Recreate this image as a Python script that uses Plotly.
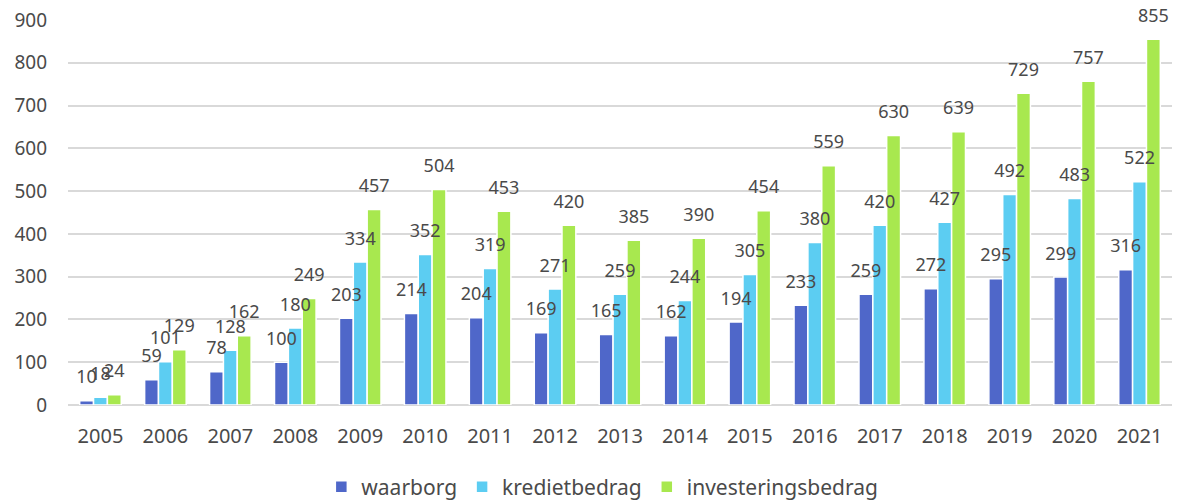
import plotly.graph_objects as go

years = [str(y) for y in range(2005, 2022)]
waarborg = [10, 59, 78, 100, 203, 214, 204, 169, 165, 162, 194, 233, 259, 272, 295, 299, 316]
kredietbedrag = [18, 101, 128, 180, 334, 352, 319, 271, 259, 244, 305, 380, 420, 427, 492, 483, 522]
investeringsbedrag = [24, 129, 162, 249, 457, 504, 453, 420, 385, 390, 454, 559, 630, 639, 729, 757, 855]

series = [
    ("waarborg", waarborg, "#4F67C9"),
    ("kredietbedrag", kredietbedrag, "#5CCDF2"),
    ("investeringsbedrag", investeringsbedrag, "#A8E84F"),
]

FONT = "Noto Sans"
TXT = "#4A4A4A"
LABEL_LIFT = 22  # extra space between bar top and its value label (axis units)

fig = go.Figure()
# visible bars
for i, (name, vals, col) in enumerate(series):
    fig.add_trace(go.Bar(
        name=name, x=years, y=vals, offsetgroup=str(i),
        marker=dict(color=col, line=dict(color="white", width=1.5)),
        hoverinfo="skip",
    ))
# transparent overlay bars carrying labels, drawn on top of all bars
for i, (name, vals, col) in enumerate(series):
    fig.add_trace(go.Bar(
        name=name, x=years, y=vals, base=LABEL_LIFT, offsetgroup=str(i), showlegend=False,
        marker=dict(color="rgba(0,0,0,0)", line=dict(width=0)),
        text=[str(v) for v in vals], textposition="outside",
        textfont=dict(family=FONT, size=18, color=TXT),
        cliponaxis=False, constraintext="none",
        hovertemplate=name + " %{x}: %{text}<extra></extra>",
    ))

fig.update_layout(
    width=1180, height=501,
    margin=dict(l=68, r=8, t=20, b=96, autoexpand=False),
    paper_bgcolor="white", plot_bgcolor="white",
    barmode="group", bargap=0.36, bargroupgap=0.0,
    font=dict(family=FONT, color=TXT, size=20),
    showlegend=True,
    legend=dict(orientation="h", x=0.484, xanchor="center", y=-0.16, yanchor="top",
                font=dict(family=FONT, size=21, color=TXT),
                tracegroupgap=0),
    xaxis=dict(showgrid=False, showline=False, ticks="", ticklabelstandoff=17,
               tickfont=dict(family=FONT, size=20, color=TXT)),
    yaxis=dict(range=[0, 900], dtick=100, showgrid=True, gridcolor="#D9D9D9", gridwidth=1.5,
               zeroline=True, zerolinecolor="#D9D9D9", zerolinewidth=1.5,
               ticks="", ticklabelstandoff=20,
               tickfont=dict(family=FONT, size=19, color=TXT)),
)

fig.write_html(
    "out.html",
    config={"displayModeBar": False},
    post_script="document.body.style.margin='0';document.body.style.overflow='hidden';",
)
